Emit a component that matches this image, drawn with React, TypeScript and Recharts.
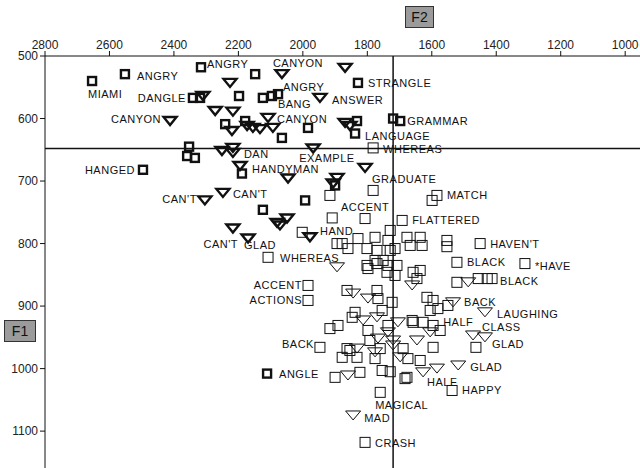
import React from "react";
import { ReferenceLine, Scatter, ScatterChart, XAxis, YAxis } from "recharts";

type Row = [number, number, string?];
type Pt = { f2: number; f1: number; word?: string };

// axis ticks (Hz)
const F2_TICKS = [2800, 2600, 2400, 2200, 2000, 1800, 1600, 1400, 1200, 1000];
const F1_TICKS = [500, 600, 700, 800, 900, 1000, 1100];

// grand means drawn as cross-hairs
const F2_MEAN = 1720;
const F1_MEAN = 648;

// [F2, F1, word]
const boldSquares: Row[] = [
  [2654, 540, "MIAMI"], [2552, 529, "ANGRY"], [2316, 518, "ANGRY"], [2148, 529],
  [2341, 567, "DANGLE"], [2319, 567], [2198, 564], [2124, 567], [2096, 564, "BANG"],
  [2077, 561, "ANGRY"], [1829, 543, "STRANGLE"], [2241, 609], [2179, 604], [1984, 615],
  [2065, 631], [1832, 604], [1838, 624, "LANGUAGE"], [1720, 600], [1698, 604, "GRAMMAR"],
  [2353, 645], [2359, 660], [2335, 663], [2496, 682, "HANGED"], [2189, 688], [1900, 707],
  [1993, 731], [2124, 746], [2111, 1008, "ANGLE"],
];

const boldTriangles: Row[] = [
  [2226, 543], [2310, 564], [2272, 588], [2217, 589], [2412, 604, "CANYON"], [2220, 620],
  [2173, 612], [2155, 615], [2133, 617], [2093, 615], [2108, 599, "CANYON"],
  [2065, 529, "CANYON"], [1869, 519], [1947, 567, "ANSWER"], [1869, 607], [1854, 612],
  [2251, 652], [2217, 647], [2217, 655, "DAN"], [2195, 676, "HANDYMAN"],
  [1968, 648, "EXAMPLE"], [2046, 696], [1807, 679, "GRADUATE"], [1894, 695], [1906, 704],
  [2304, 731, "CAN'T"], [2248, 719, "CAN'T"], [2080, 767], [2049, 760], [2071, 771],
  [2217, 776], [2170, 792, "CAN'T"], [1978, 790, "HAND"],
];

const thinSquares: Row[] = [
  [1782, 647, "WHEREAS"], [1782, 715], [1916, 723], [1909, 759], [1807, 760, "ACCENT"],
  [1692, 763, "FLATTERED"], [1729, 779], [1599, 731], [1584, 723, "MATCH"], [2002, 782],
  [2108, 822, "WHEREAS"], [1894, 800], [1878, 800], [1860, 808], [1829, 792], [1801, 808],
  [1776, 790], [1770, 811], [1736, 795], [1729, 811], [1714, 808], [1677, 790], [1667, 803],
  [1636, 790], [1630, 803], [1553, 795], [1553, 805], [1450, 800, "HAVEN'T"], [1776, 827],
  [1751, 827], [1736, 835], [1798, 840], [1739, 846], [1708, 835], [1658, 846], [1636, 843],
  [1646, 856], [1522, 830, "BLACK"], [1311, 832, "*HAVE"], [1522, 862], [1456, 856],
  [1428, 856], [1413, 856, "BLACK"], [1801, 835], [1770, 832], [1714, 851],
  [1984, 867, "ACCENT"], [1984, 891, "ACTIONS"], [1863, 875], [1770, 875], [1767, 888],
  [1723, 894], [1754, 907], [1838, 910], [1847, 918], [1661, 923], [1627, 926], [1596, 931],
  [1615, 886], [1596, 891], [1605, 907], [1581, 904], [1550, 899], [1736, 931], [1916, 936],
  [1891, 931], [1798, 939], [1947, 966, "BACK"], [1792, 955], [1760, 968], [1863, 968],
  [1878, 982], [1832, 982], [1854, 971], [1776, 984], [1689, 968], [1674, 984], [1636, 987],
  [1596, 966], [1754, 1003], [1729, 1005], [1658, 926], [1574, 939, "HALF"], [1463, 966],
  [1677, 1014], [1537, 1035, "HAPPY"], [1900, 1014], [1823, 1006], [1683, 1016],
  [1760, 1038, "MAGICAL"], [1807, 1118, "CRASH"],
];

const thinTriangles: Row[] = [
  [1894, 838], [1661, 867], [1487, 862], [1534, 894, "BACK"], [1435, 910, "LAUGHING"],
  [1705, 926], [1605, 942], [1472, 947, "CLASS"], [1435, 950, "GLAD"], [1646, 955],
  [1720, 955], [1698, 982], [1518, 995, "GLAD"], [1627, 1006, "HALF"], [1584, 1000],
  [1844, 880], [1798, 888], [1770, 918], [1813, 923], [1736, 942], [1767, 952], [1720, 963],
  [1832, 968], [1776, 974], [1860, 1011], [1844, 1075, "MAD"],
];

// label offsets from the marker centre: [dx, dy, anchor]
type Place = [number, number, "start" | "end" | "middle"];
const WORD_PLACE: Record<string, Place> = {
  "MIAMI@2654": [-4, 17, "start"],
  "ANGRY@2552": [12, 6, "start"],
  "ANGRY@2316": [6, 1, "start"],
  "DANGLE@2341": [-7, 4, "end"],
  "BANG@2096": [6, 12, "start"],
  "ANGRY@2077": [5, -3, "start"],
  "STRANGLE@1829": [10, 4, "start"],
  "LANGUAGE@1838": [10, 6, "start"],
  "GRAMMAR@1698": [7, 4, "start"],
  "HANGED@2496": [-8, 4, "end"],
  "ANGLE@2111": [12, 4, "start"],
  "CANYON@2412": [-9, 2, "end"],
  "CANYON@2108": [9, 5, "start"],
  "CANYON@2065": [-9, -7, "start"],
  "ANSWER@1947": [12, 6, "start"],
  "DAN@2217": [11, 5, "start"],
  "HANDYMAN@2195": [12, 7, "start"],
  "EXAMPLE@1968": [-14, 13, "start"],
  "GRADUATE@1807": [7, 15, "start"],
  "CAN'T@2304": [-8, 3, "end"],
  "CAN'T@2248": [10, 5, "start"],
  "CAN'T@2170": [-10, 9, "end"],
  "HAND@1978": [10, -2, "start"],
  "WHEREAS@1782": [10, 5, "start"],
  "ACCENT@1807": [0, -8, "middle"],
  "FLATTERED@1692": [10, 4, "start"],
  "MATCH@1584": [10, 4, "start"],
  "WHEREAS@2108": [12, 5, "start"],
  "HAVEN'T@1450": [10, 4, "start"],
  "BLACK@1522": [10, 4, "start"],
  "*HAVE@1311": [10, 6, "start"],
  "BLACK@1413": [8, 6, "start"],
  "ACCENT@1984": [-6, 4, "end"],
  "ACTIONS@1984": [-6, 4, "end"],
  "BACK@1947": [-6, 1, "end"],
  "BACK@1534": [11, 4, "start"],
  "LAUGHING@1435": [12, 6, "start"],
  "CLASS@1472": [9, -4, "start"],
  "HALF@1574": [3, -4, "start"],
  "GLAD@1435": [7, 11, "start"],
  "GLAD@1518": [12, 6, "start"],
  "HALF@1627": [4, 14, "start"],
  "HAPPY@1537": [10, 4, "start"],
  "MAGICAL@1760": [-5, 17, "start"],
  "MAD@1844": [11, 7, "start"],
  "CRASH@1807": [10, 5, "start"],
};

// second word sitting next to the lower WHEREAS square
const EXTRA_WORDS: { word: string; f2: number; f1: number; place: Place }[] = [
  { word: "GLAD", f2: 2108, f1: 822, place: [-24, -8, "start"] },
];

const toPts = (rows: Row[]): Pt[] => rows.map(([f2, f1, word]) => ({ f2, f1, word }));

const FONT = "'Liberation Sans', Arial, sans-serif";

const SquareMark = (bold: boolean) => (p: any) => {
  const s = bold ? 8 : 10;
  return (
    <rect
      x={p.cx - s / 2}
      y={p.cy - s / 2}
      width={s}
      height={s}
      fill="none"
      stroke="#111"
      strokeWidth={bold ? 2.4 : 1}
    />
  );
};

const TriangleMark = (bold: boolean) => (p: any) => {
  const w = bold ? 13 : 15;
  const h = bold ? 8 : 9;
  const { cx, cy } = p;
  return (
    <path
      d={`M${cx - w / 2},${cy - h / 2}L${cx + w / 2},${cy - h / 2}L${cx},${cy + h / 2}Z`}
      fill="none"
      stroke="#111"
      strokeWidth={bold ? 2.4 : 1}
      strokeLinejoin="miter"
    />
  );
};

const WordMark = (p: any) => {
  const { cx, cy, payload } = p;
  const place: Place = payload.place ?? WORD_PLACE[`${payload.word}@${payload.f2}`] ?? [9, 4, "start"];
  return (
    <text
      x={cx + place[0]}
      y={cy + place[1]}
      textAnchor={place[2]}
      fontFamily={FONT}
      fontSize={11}
      letterSpacing={0.5}
      fill="#111"
    >
      {payload.word}
    </text>
  );
};

const boxStyle: React.CSSProperties = {
  position: "absolute",
  background: "#9b9b9b",
  border: "1px solid #333",
  fontFamily: FONT,
  fontSize: 14,
  color: "#111",
  textAlign: "center",
  boxSizing: "border-box",
};

export default function App() {
  const series = [
    { key: "bs", data: toPts(boldSquares), shape: SquareMark(true) },
    { key: "bt", data: toPts(boldTriangles), shape: TriangleMark(true) },
    { key: "ts", data: toPts(thinSquares), shape: SquareMark(false) },
    { key: "tt", data: toPts(thinTriangles), shape: TriangleMark(false) },
  ];
  const words = [
    ...series.flatMap((s) => s.data.filter((d) => d.word)),
    ...EXTRA_WORDS,
  ];

  return (
    <div style={{ position: "relative", width: 640, height: 468, background: "#fff" }}>
      <style>{"body{margin:0}"}</style>
      <ScatterChart width={640} height={468} margin={{ top: 26, right: 0, bottom: 0, left: 0 }}>
        <XAxis
          type="number"
          dataKey="f2"
          orientation="top"
          reversed
          domain={[954, 2800]}
          ticks={F2_TICKS}
          allowDataOverflow
          height={30}
          stroke="#111"
          tickSize={5}
          tick={{ fontSize: 12, fontFamily: FONT, fill: "#222" }}
        />
        <YAxis
          type="number"
          dataKey="f1"
          reversed
          domain={[500, 1159]}
          ticks={F1_TICKS}
          allowDataOverflow
          width={45}
          stroke="#111"
          tickSize={5}
          tick={{ fontSize: 12, fontFamily: FONT, fill: "#222" }}
        />
        <ReferenceLine x={F2_MEAN} stroke="#111" strokeWidth={1.5} />
        <ReferenceLine y={F1_MEAN} stroke="#111" strokeWidth={1.5} />
        {series.map((s) => (
          <Scatter key={s.key} data={s.data} shape={s.shape} isAnimationActive={false} />
        ))}
        <Scatter data={words} shape={WordMark} isAnimationActive={false} />
      </ScatterChart>
      <div style={{ ...boxStyle, left: 405, top: 6, width: 29, height: 22, lineHeight: "20px" }}>F2</div>
      <div style={{ ...boxStyle, left: 4, top: 320, width: 32, height: 22, lineHeight: "20px" }}>F1</div>
    </div>
  );
}
